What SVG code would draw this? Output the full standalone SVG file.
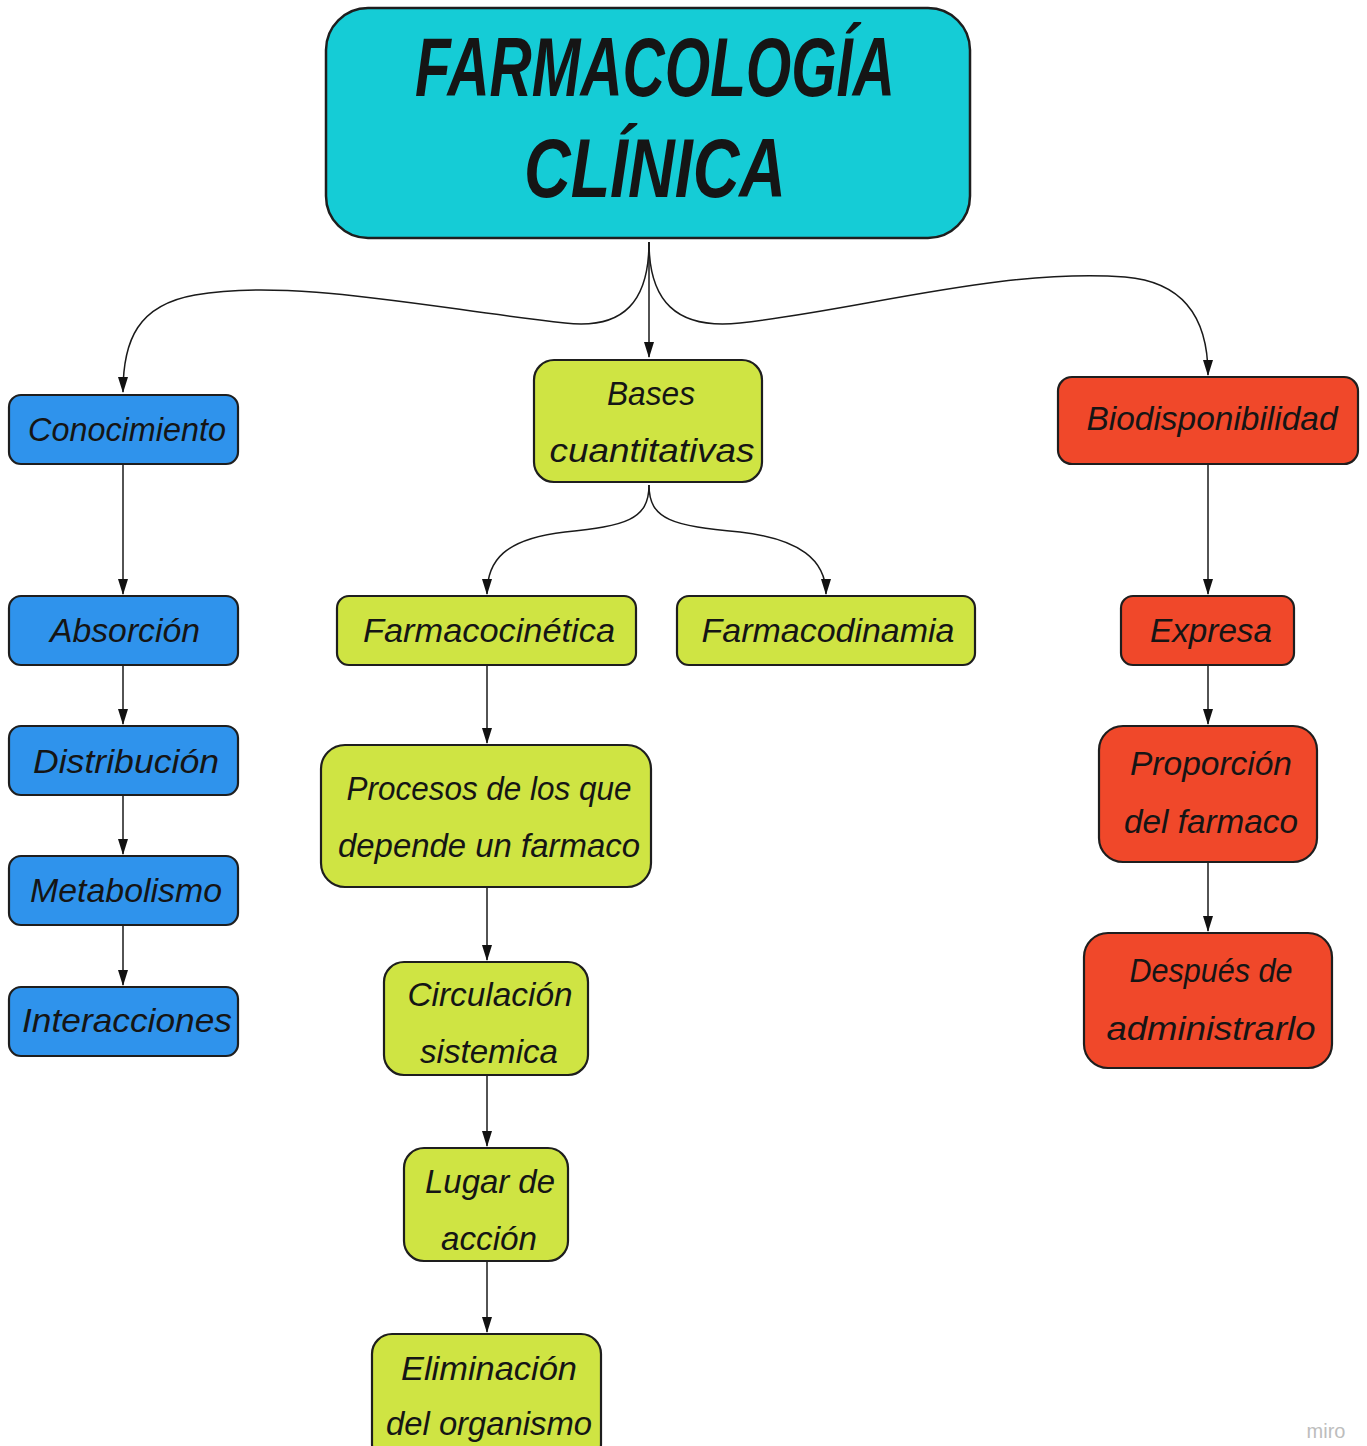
<svg xmlns="http://www.w3.org/2000/svg" width="1367" height="1446" viewBox="0 0 1367 1446">
<defs>
<style>
.box{stroke:#1e1e1e;stroke-width:2.2}
.blue{fill:#2f93ec}
.green{fill:#cfe443}
.red{fill:#f0482a}
.title{fill:#15ccd6;stroke:#1e1e1e;stroke-width:2.5}
text{font-family:"Liberation Sans","DejaVu Sans",sans-serif;font-style:italic;fill:#151515;text-anchor:middle}
.t{font-size:34px}
.tt{font-size:84px;font-weight:bold}
.conn path{fill:none;stroke:#1a1a1a;stroke-width:1.5}
</style>
<marker id="ah" viewBox="0 0 16 10" refX="15" refY="5" markerWidth="16" markerHeight="10" markerUnits="userSpaceOnUse" orient="auto">
<path d="M0,0 L16,5 L0,10 Z" fill="#111"/>
</marker>
</defs>
<rect width="1367" height="1446" fill="#fff"/>

<g class="conn">
<path d="M649,242 L649,357" marker-end="url(#ah)"/>
<path d="M649,242 C649,300 625,330 565,323 C430,308 290,278 195,295 C138,305 123,340 123,392" marker-end="url(#ah)"/>
<path d="M649,242 C649,300 675,330 740,323 C860,310 1000,268 1125,277 C1185,282 1208,320 1208,375" marker-end="url(#ah)"/>
<path d="M649,485 C649,520 625,526 565,532 C505,539 487,560 487,594" marker-end="url(#ah)"/>
<path d="M649,485 C649,520 673,526 740,532 C800,539 826,560 826,594" marker-end="url(#ah)"/>
<path d="M123,465 L123,594" marker-end="url(#ah)"/>
<path d="M123,666 L123,724" marker-end="url(#ah)"/>
<path d="M123,796 L123,854" marker-end="url(#ah)"/>
<path d="M123,926 L123,985" marker-end="url(#ah)"/>
<path d="M1208,465 L1208,594" marker-end="url(#ah)"/>
<path d="M1208,666 L1208,724" marker-end="url(#ah)"/>
<path d="M1208,863 L1208,931" marker-end="url(#ah)"/>
<path d="M487,666 L487,743" marker-end="url(#ah)"/>
<path d="M487,888 L487,960" marker-end="url(#ah)"/>
<path d="M487,1076 L487,1146" marker-end="url(#ah)"/>
<path d="M487,1262 L487,1332" marker-end="url(#ah)"/>
</g>

<g id="farmacologia">
<rect class="title" x="326" y="8" width="644" height="230" rx="42"/>
<text class="tt" x="655" y="96" textLength="480" lengthAdjust="spacingAndGlyphs">FARMACOLOGÍA</text>
<text class="tt" x="655" y="197" textLength="262" lengthAdjust="spacingAndGlyphs">CLÍNICA</text>
</g>

<g id="conocimiento">
<rect class="box blue" x="9" y="395" width="229" height="69" rx="12"/>
<text class="t" x="127" y="441" textLength="198" lengthAdjust="spacingAndGlyphs">Conocimiento</text>
</g>
<g id="absorcion">
<rect class="box blue" x="9" y="596" width="229" height="69" rx="12"/>
<text class="t" x="125" y="642" textLength="150" lengthAdjust="spacingAndGlyphs">Absorción</text>
</g>
<g id="distribucion">
<rect class="box blue" x="9" y="726" width="229" height="69" rx="12"/>
<text class="t" x="126" y="773" textLength="186" lengthAdjust="spacingAndGlyphs">Distribución</text>
</g>
<g id="metabolismo">
<rect class="box blue" x="9" y="856" width="229" height="69" rx="12"/>
<text class="t" x="126" y="902" textLength="192" lengthAdjust="spacingAndGlyphs">Metabolismo</text>
</g>
<g id="interacciones">
<rect class="box blue" x="9" y="987" width="229" height="69" rx="12"/>
<text class="t" x="127" y="1032" textLength="210" lengthAdjust="spacingAndGlyphs">Interacciones</text>
</g>

<g id="bases">
<rect class="box green" x="534" y="360" width="228" height="122" rx="20"/>
<text class="t" x="651" y="405" textLength="88" lengthAdjust="spacingAndGlyphs">Bases</text>
<text class="t" x="652" y="462" textLength="205" lengthAdjust="spacingAndGlyphs">cuantitativas</text>
</g>
<g id="farmacocinetica">
<rect class="box green" x="337" y="596" width="299" height="69" rx="12"/>
<text class="t" x="489" y="642" textLength="252" lengthAdjust="spacingAndGlyphs">Farmacocinética</text>
</g>
<g id="farmacodinamia">
<rect class="box green" x="677" y="596" width="298" height="69" rx="12"/>
<text class="t" x="828" y="642" textLength="253" lengthAdjust="spacingAndGlyphs">Farmacodinamia</text>
</g>
<g id="procesos">
<rect class="box green" x="321" y="745" width="330" height="142" rx="24"/>
<text class="t" x="489" y="800" textLength="285" lengthAdjust="spacingAndGlyphs">Procesos de los que</text>
<text class="t" x="489" y="857" textLength="302" lengthAdjust="spacingAndGlyphs">depende un farmaco</text>
</g>
<g id="circulacion">
<rect class="box green" x="384" y="962" width="204" height="113" rx="20"/>
<text class="t" x="490" y="1006" textLength="165" lengthAdjust="spacingAndGlyphs">Circulación</text>
<text class="t" x="489" y="1063" textLength="138" lengthAdjust="spacingAndGlyphs">sistemica</text>
</g>
<g id="lugar">
<rect class="box green" x="404" y="1148" width="164" height="113" rx="20"/>
<text class="t" x="490" y="1193" textLength="130" lengthAdjust="spacingAndGlyphs">Lugar de</text>
<text class="t" x="489" y="1250" textLength="96" lengthAdjust="spacingAndGlyphs">acción</text>
</g>
<g id="eliminacion">
<rect class="box green" x="372" y="1334" width="229" height="130" rx="20"/>
<text class="t" x="489" y="1380" textLength="176" lengthAdjust="spacingAndGlyphs">Eliminación</text>
<text class="t" x="489" y="1435" textLength="206" lengthAdjust="spacingAndGlyphs">del organismo</text>
</g>

<g id="biodisponibilidad">
<rect class="box red" x="1058" y="377" width="300" height="87" rx="14"/>
<text class="t" x="1212" y="430" textLength="251" lengthAdjust="spacingAndGlyphs">Biodisponibilidad</text>
</g>
<g id="expresa">
<rect class="box red" x="1121" y="596" width="173" height="69" rx="12"/>
<text class="t" x="1211" y="642" textLength="122" lengthAdjust="spacingAndGlyphs">Expresa</text>
</g>
<g id="proporcion">
<rect class="box red" x="1099" y="726" width="218" height="136" rx="24"/>
<text class="t" x="1211" y="775" textLength="162" lengthAdjust="spacingAndGlyphs">Proporción</text>
<text class="t" x="1211" y="833" textLength="174" lengthAdjust="spacingAndGlyphs">del farmaco</text>
</g>
<g id="despues">
<rect class="box red" x="1084" y="933" width="248" height="135" rx="24"/>
<text class="t" x="1211" y="982" textLength="163" lengthAdjust="spacingAndGlyphs">Después de</text>
<text class="t" x="1211" y="1040" textLength="209" lengthAdjust="spacingAndGlyphs">administrarlo</text>
</g>

<text x="1326" y="1438" style="font-style:normal;font-size:20px;fill:#bdbdbd;font-family:'Liberation Sans',sans-serif">miro</text>
</svg>
